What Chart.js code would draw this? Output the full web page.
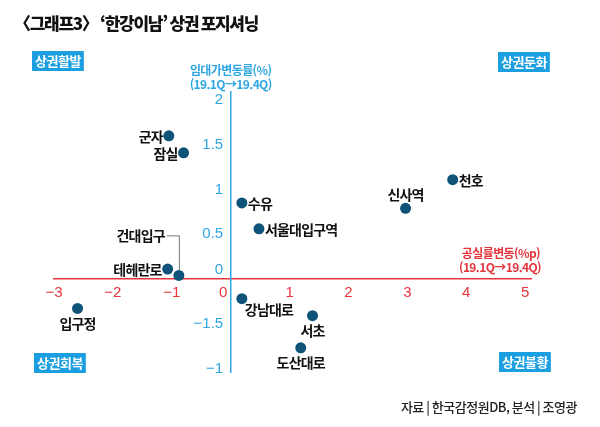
<!DOCTYPE html>
<html lang="ko">
<head>
<meta charset="utf-8">
<script src="https://cdn.jsdelivr.net/npm/chart.js@4.4.1/dist/chart.umd.min.js"></script>
<style>
  html, body { margin: 0; padding: 0; background: #fff; }
  #wrap { width: 600px; height: 427px; position: relative; }
</style>
</head>
<body>
<div id="wrap"><canvas id="chart"></canvas></div>
<script>
// 상권 이름과 변동률 (19.1Q -> 19.4Q)
const names = ['군자', '잠실', '수유', '서울대입구역', '테헤란로', '건대입구', '천호', '신사역', '강남대로', '입구정', '서초', '도산대로'];
const vacancyChange = [-1.05, -0.80, 0.19, 0.48, -1.07, -0.88, 3.77, 2.97, 0.19, -2.60, 1.39, 1.19]; // 공실률변동(%p)
const rentChange = [1.60, 1.41, 0.85, 0.56, 0.11, 0.04, 1.11, 0.79, -0.22, -0.33, -0.41, -0.77]; // 임대가변동률(%)

const xTickValues = [-3, -2, -1, 0, 1, 2, 3, 4, 5];
const xTickLabels = ['−3', '−2', '−1', '0', '1', '2', '3', '4', '5'];
const yTickValues = [-1, -0.5, 0, 0.5, 1, 1.5, 2];
const yTickLabels = ['−1', '−1.5', '0', '0.5', '1', '1.5', '2']; // 원본 그대로

// 이름표 위치 (점 기준)
const labelSide = ['left', 'left', 'right', 'right', 'left', 'leader', 'right', 'above', 'belowRight', 'below', 'below', 'below'];

const RED = '#e5343c';
const BLUE = '#2ea6e3';
const DOT = '#0f5379';
const BOX = '#1b9fe1';
const KR = "'Noto Sans CJK KR', 'Noto Sans', sans-serif";
const NUM = "'Liberation Sans Narrow', 'Liberation Sans', sans-serif";

const points = names.map((n, i) => ({ x: vacancyChange[i], y: rentChange[i] }));

// 제목, 사분면 박스, 축 제목, 이름표
const decor = {
    id: 'decor',
    afterDatasetsDraw(chart) {
        const ctx = chart.ctx;
        const meta = chart.getDatasetMeta(0);
        const xs = chart.scales.x;
        ctx.save();

        // 제목
        ctx.fillStyle = '#111';
        ctx.font = '900 17px ' + KR;
        ctx.letterSpacing = '-1.3px';
        ctx.textAlign = 'left';
        ctx.textBaseline = 'middle';
        ctx.fillText('〈그래프3〉 ‘한강이남’ 상권 포지셔닝', 14, 24);

        // 사분면 박스
        ctx.letterSpacing = '-0.5px';
        ctx.font = 'bold 13px ' + KR;
        const quad = [
            ['상권활발', 32, 51],
            ['상권둔화', 498, 52],
            ['상권회복', 34, 353],
            ['상권불황', 499, 352]
        ];
        quad.forEach(([t, x, y]) => {
            const w = ctx.measureText(t).width + 6;
            ctx.fillStyle = BOX;
            ctx.fillRect(x, y, w, 20);
            ctx.fillStyle = '#fff';
            ctx.textAlign = 'left';
            ctx.fillText(t, x + 3, y + 10.5);
        });

        // 축 제목
        ctx.font = 'bold 12px ' + KR;
        ctx.letterSpacing = '-0.6px';
        ctx.fillStyle = BLUE;
        ctx.textAlign = 'center';
        const x0 = xs.getPixelForValue(0);
        ctx.fillText('임대가변동률(%)', x0, 70);
        ctx.fillText('(19.1Q→19.4Q)', x0, 84);
        ctx.fillStyle = RED;
        ctx.textAlign = 'right';
        ctx.fillText('공실률변동(%p)', 540, 253);
        ctx.fillText('(19.1Q→19.4Q)', 541, 267);

        // 출처
        ctx.fillStyle = '#222';
        ctx.font = '500 13px ' + KR;
        ctx.letterSpacing = '-0.5px';
        ctx.fillText('자료 | 한국감정원DB, 분석 | 조영광', 577, 407);

        // 이름표
        ctx.font = 'bold 14px ' + KR;
        ctx.letterSpacing = '-0.8px';
        ctx.fillStyle = '#111';
        meta.data.forEach((pt, i) => {
            const px = pt.x, py = pt.y;
            const side = labelSide[i];
            if (side === 'left') {
                ctx.textAlign = 'right';
                ctx.fillText(names[i], px - 6, py + 1);
            } else if (side === 'right') {
                ctx.textAlign = 'left';
                ctx.fillText(names[i], px + 6, py + 1);
            } else if (side === 'above') {
                ctx.textAlign = 'center';
                ctx.fillText(names[i], px, py - 14);
            } else if (side === 'below') {
                ctx.textAlign = 'center';
                ctx.fillText(names[i], px, py + 15);
            } else if (side === 'belowRight') {
                ctx.textAlign = 'left';
                ctx.fillText(names[i], px + 3, py + 11);
            } else if (side === 'leader') {
                const ly = py - 40;
                ctx.textAlign = 'right';
                ctx.fillText(names[i], px - 14, ly);
                ctx.strokeStyle = '#777';
                ctx.lineWidth = 1;
                ctx.beginPath();
                ctx.moveTo(px - 12, ly + 0.5);
                ctx.lineTo(px + 0.5, ly + 0.5);
                ctx.lineTo(px + 0.5, py - 5);
                ctx.stroke();
            }
        });
        ctx.restore();
    }
};

const config = {
    type: 'scatter',
    data: {
        datasets: [{
            data: points,
            backgroundColor: DOT,
            borderColor: DOT,
            borderWidth: 0,
            pointRadius: 5.5
        }]
    },
    options: {
        responsive: true,
        maintainAspectRatio: false,
        animation: false,
        layout: { padding: { left: 54, right: 69, top: 92, bottom: 55 } },
        plugins: {
            legend: { display: false },
            tooltip: { enabled: false }
        },
        scales: {
            x: {
                type: 'linear',
                min: -3.0,
                max: 5.1,
                position: { y: 0 },
                grid: { display: false, drawTicks: false },
                border: { display: true, color: RED, width: 1.5 },
                afterBuildTicks: (s) => { s.ticks = xTickValues.map(v => ({ value: v })); },
                ticks: {
                    color: RED,
                    padding: 5,
                    font: { family: NUM, size: 15 },
                    callback: function(value) {
                        const lab = xTickLabels[xTickValues.indexOf(value)];
                        return value === 0 ? lab + '\u2003' : lab; // 0은 세로축 왼쪽으로
                    }
                }
            },
            y: {
                type: 'linear',
                min: -1.04,
                max: 2.09,
                position: { x: 0 },
                grid: { display: false, drawTicks: false },
                border: { display: true, color: BLUE, width: 1.5 },
                afterBuildTicks: (s) => { s.ticks = yTickValues.map(v => ({ value: v })); },
                ticks: {
                    color: BLUE,
                    padding: 5,
                    font: { family: NUM, size: 15 },
                    callback: function(value) {
                        const lab = yTickLabels[yTickValues.indexOf(value)] + '\u2002'; // 축선과 간격
                        return value === 0 ? [lab, ''] : lab; // 0은 가로축 위에
                    }
                }
            }
        }
    },
    plugins: [decor]
};

new Chart(document.getElementById('chart').getContext('2d'), config);
</script>
</body>
</html>
